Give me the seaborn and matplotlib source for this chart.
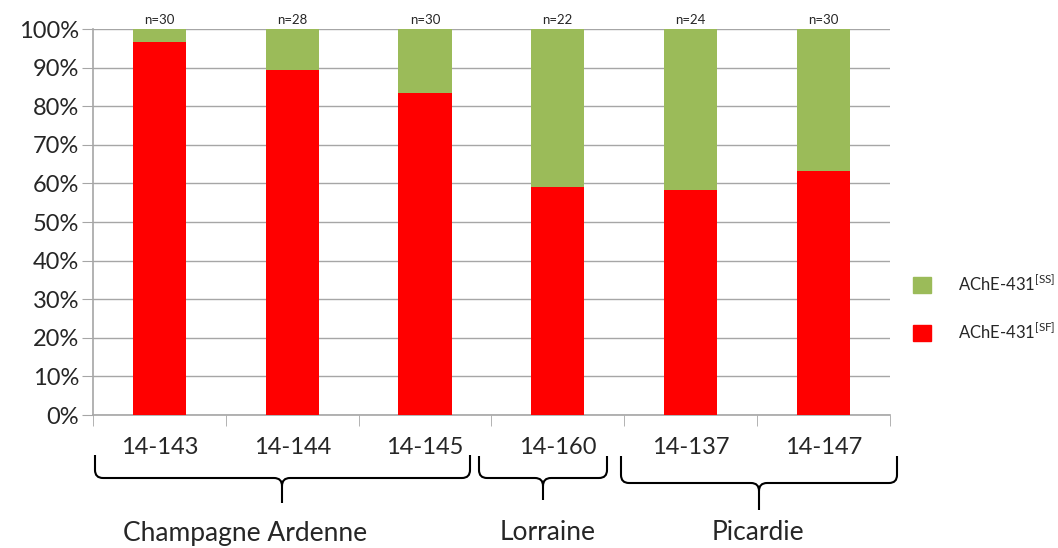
import seaborn as sns
import matplotlib.pyplot as plt
import pandas as pd
from matplotlib.path import Path
from matplotlib.patches import PathPatch, Patch
from matplotlib.ticker import PercentFormatter

# Données : proportion de génotypes AChE-431 par population
populations = ["14-143", "14-144", "14-145", "14-160", "14-137", "14-147"]
effectifs = [30, 28, 30, 22, 24, 30]
pct_sf = [96.7, 89.3, 83.3, 59.1, 58.3, 63.3]
pct_ss = [100 - v for v in pct_sf]
regions = ["Champagne Ardenne", "Lorraine", "Picardie"]

df = pd.DataFrame({"population": populations, "SF": pct_sf, "SS": pct_ss})
df["total"] = df["SF"] + df["SS"]

sns.set_style("white")
plt.rcParams['font.family'] = ['Lato', 'DejaVu Sans']

fig = plt.figure(figsize=(10.58, 5.48), dpi=100, facecolor='white')
ax = fig.add_axes([0.0879, 0.2427, 0.753, 0.7043])

vert = "#9BBB59"
rouge = "#FF0000"

sns.barplot(data=df, x="population", y="total", color=vert, width=0.4,
            saturation=1, linewidth=0, ax=ax, zorder=3)
sns.barplot(data=df, x="population", y="SF", color=rouge, width=0.4,
            saturation=1, linewidth=0, ax=ax, zorder=3)

ax.set_ylim(0, 100)
ax.set_xlim(-0.5, len(populations) - 0.5)
ax.set_yticks(range(0, 101, 10))
ax.yaxis.set_major_formatter(PercentFormatter(decimals=0))
ax.set_xlabel("")
ax.set_ylabel("")
ax.grid(axis="y", color="#A6A6A6", linewidth=1, zorder=0)
ax.set_axisbelow(True)

for s in ["top", "right"]:
    ax.spines[s].set_visible(False)
for s in ["left", "bottom"]:
    ax.spines[s].set_color("#A6A6A6")
    ax.spines[s].set_linewidth(1.2)

ax.tick_params(axis="y", left=True, length=8, color="#A6A6A6",
               labelsize=17, pad=2)
ax.set_xticks([i - 0.5 for i in range(len(populations) + 1)], minor=True)
ax.set_xticks(range(len(populations)))
ax.set_xticklabels(populations)
ax.tick_params(axis="x", which="major", bottom=False, labelsize=17, pad=12)
ax.tick_params(axis="x", which="minor", bottom=True, length=8,
               color="#A6A6A6")

for i, n in enumerate(effectifs):
    ax.text(i, 100.8, f"n={n}", ha="center", va="bottom", fontsize=9.5)


def accolade(x0, x1, ytop, ymid, ytip, xtip):
    # accolade horizontale en coordonnées figure (pixels -> fraction)
    W, H = 1058, 548
    r = 8
    pts = [(x0, ytop), (x0, ymid - r), (x0, ymid), (x0 + r, ymid),
           (xtip - r, ymid), (xtip, ymid), (xtip, ymid + r),
           (xtip, ytip),
           (xtip, ymid + r), (xtip, ymid), (xtip + r, ymid),
           (x1 - r, ymid), (x1, ymid), (x1, ymid - r), (x1, ytop)]
    codes = [Path.MOVETO, Path.LINETO, Path.CURVE3, Path.CURVE3,
             Path.LINETO, Path.CURVE3, Path.CURVE3, Path.LINETO,
             Path.MOVETO, Path.CURVE3, Path.CURVE3,
             Path.LINETO, Path.CURVE3, Path.CURVE3, Path.LINETO]
    verts = [(x / W, 1 - y / H) for x, y in pts]
    fig.add_artist(PathPatch(Path(verts, codes), fill=False, lw=1.5,
                             edgecolor="black", transform=fig.transFigure))


accolade(95, 470, 455, 478, 503, 282)
accolade(479, 607, 456, 478, 500, 543)
accolade(621, 897, 456, 483, 510, 759)

for txt, xc in zip(regions, [245, 548, 758]):
    fig.text(xc / 1058, 1 - 533 / 548, txt, ha="center", va="center",
             fontsize=19)

handles = [Patch(color=vert, label=r"AChE-431$^{\mathregular{[SS]}}$"),
           Patch(color=rouge, label=r"AChE-431$^{\mathregular{[SF]}}$")]
fig.legend(handles=handles, loc="center left",
           bbox_to_anchor=(898 / 1058, 1 - 307 / 548), frameon=False,
           fontsize=12, handlelength=1.1, handleheight=1.1,
           handletextpad=1.6, labelspacing=1.6)

plt.savefig("out.png", dpi=100, facecolor='white')
plt.close(fig)
